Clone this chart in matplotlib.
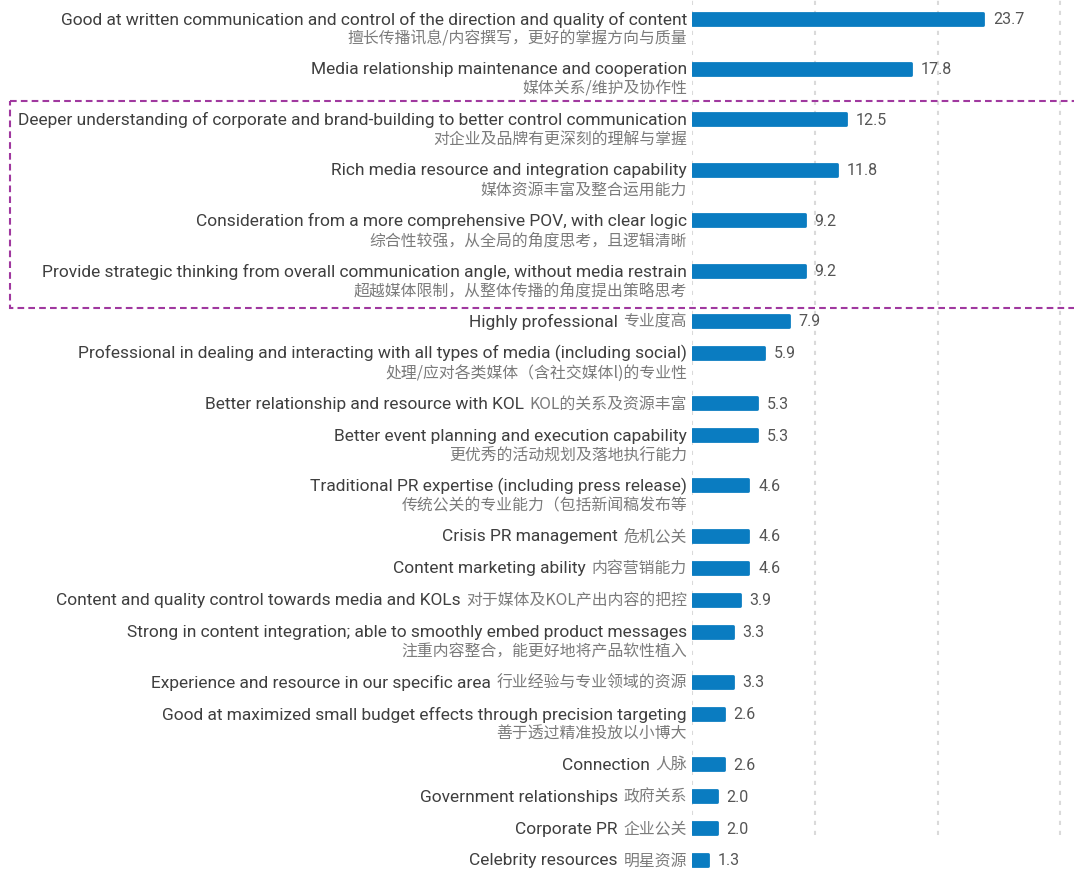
import matplotlib
matplotlib.use("Agg")
import matplotlib.pyplot as plt
import numpy as np
from matplotlib.patches import Rectangle
from matplotlib.transforms import blended_transform_factory

# English label, Chinese label, share (%), whether the Chinese text sits on its own line
labels_en = [
    "Good at written communication and control of the direction and quality of content",
    "Media relationship maintenance and cooperation",
    "Deeper understanding of corporate and brand-building to better control communication",
    "Rich media resource and integration capability",
    "Consideration from a more comprehensive POV, with clear logic",
    "Provide strategic thinking from overall communication angle, without media restrain",
    "Highly professional",
    "Professional in dealing and interacting with all types of media (including social)",
    "Better relationship and resource with KOL",
    "Better event planning and execution capability",
    "Traditional PR expertise (including press release)",
    "Crisis PR management",
    "Content marketing ability",
    "Content and quality control towards media and KOLs",
    "Strong in content integration; able to smoothly embed product messages",
    "Experience and resource in our specific area",
    "Good at maximized small budget effects through precision targeting",
    "Connection",
    "Government relationships",
    "Corporate PR",
    "Celebrity resources",
]
labels_cn = [
    "擅长传播讯息/内容撰写，更好的掌握方向与质量",
    "媒体关系/维护及协作性",
    "对企业及品牌有更深刻的理解与掌握",
    "媒体资源丰富及整合运用能力",
    "综合性较强，从全局的角度思考，且逻辑清晰",
    "超越媒体限制，从整体传播的角度提出策略思考",
    "专业度高",
    "处理/应对各类媒体（含社交媒体l)的专业性",
    "KOL的关系及资源丰富",
    "更优秀的活动规划及落地执行能力",
    "传统公关的专业能力（包括新闻稿发布等",
    "危机公关",
    "内容营销能力",
    "对于媒体及KOL产出内容的把控",
    "注重内容整合，能更好地将产品软性植入",
    "行业经验与专业领域的资源",
    "善于透过精准投放以小博大",
    "人脉",
    "政府关系",
    "企业公关",
    "明星资源",
]
values = [23.7, 17.8, 12.5, 11.8, 9.2, 9.2, 7.9, 5.9, 5.3, 5.3, 4.6,
          4.6, 4.6, 3.9, 3.3, 3.3, 2.6, 2.6, 2.0, 2.0, 1.3]
two_line = [True, True, True, True, True, True, False, True, False, True, True,
            False, False, False, True, False, True, False, False, False, False]
highlighted = [2, 3, 4, 5]  # items framed by the dashed box

BAR = "#0a7cc1"
EN_COLOR = "#3f3f3f"
CN_COLOR = "#7b7b7b"
VAL_COLOR = "#555555"
GRID = "#dadada"
FRAME = "#a0389f"
EN_FONT = ["Roboto", "Noto Sans CJK SC"]
CN_FONT = ["Noto Sans CJK SC", "DejaVu Sans"]

W, H = 1074, 870
fig = plt.figure(figsize=(W / 100, H / 100), dpi=100)
left = 692 / W
ax = fig.add_axes([left, 0, 1 - left, 1])

# vertical layout in pixel-like units: each row gets room for its label lines
row_one, row_extra = 31.9, 18.5
heights = np.array([row_one + (row_extra if t else 0) for t in two_line])
ypos = 19.5 + np.concatenate([[0], np.cumsum(heights)[:-1]])

ax.set_ylim(H, 0)
ax.set_xlim(0, (W - 692) / 12.28)

ax.barh(ypos, values, height=12.0, color=BAR, edgecolor=BAR,
        linewidth=2.0, joinstyle="round", zorder=3)

for x in (0, 10, 20, 30):
    ax.axvline(x, ymin=1 - 836 / H, ymax=1, color=GRID, lw=1.5,
               linestyle=(0, (2.0, 2.8)), zorder=1)

for y, v in zip(ypos, values):
    ax.annotate(f"{v:.1f}", xy=(v, y), xytext=(7, 0), textcoords="offset points",
                ha="left", va="center", fontsize=11.5, color=VAL_COLOR,
                family=EN_FONT, zorder=4)

label_x = -5 / 12.28
for y, en, cn, two in zip(ypos, labels_en, labels_cn, two_line):
    if two:
        ax.text(label_x, y, en, ha="right", va="center", fontsize=12.5,
                color=EN_COLOR, family=EN_FONT, clip_on=False)
        ax.text(label_x, y + 19.5, cn, ha="right", va="center", fontsize=11.4,
                color=CN_COLOR, family=CN_FONT, clip_on=False)
    else:
        t_cn = ax.text(label_x, y, cn, ha="right", va="center", fontsize=11.4,
                       color=CN_COLOR, family=CN_FONT, clip_on=False)
        ax.annotate(en, xy=(0, 0.5), xycoords=t_cn, xytext=(-4, 0),
                    textcoords="offset points", ha="right", va="center",
                    fontsize=12.5, color=EN_COLOR, family=EN_FONT,
                    annotation_clip=False)

# dashed frame around the highlighted group
top = ypos[highlighted[0]] - 18
bottom = ypos[highlighted[-1] + 1] - 13
trans = blended_transform_factory(fig.transFigure, ax.transData)
ax.add_patch(Rectangle((10 / W, top), 1.2, bottom - top, transform=trans,
                       fill=False, edgecolor=FRAME, lw=1.5,
                       linestyle=(0, (3.2, 2.0)), clip_on=False, zorder=5))

ax.axis("off")
fig.savefig("out.png", dpi=100)
